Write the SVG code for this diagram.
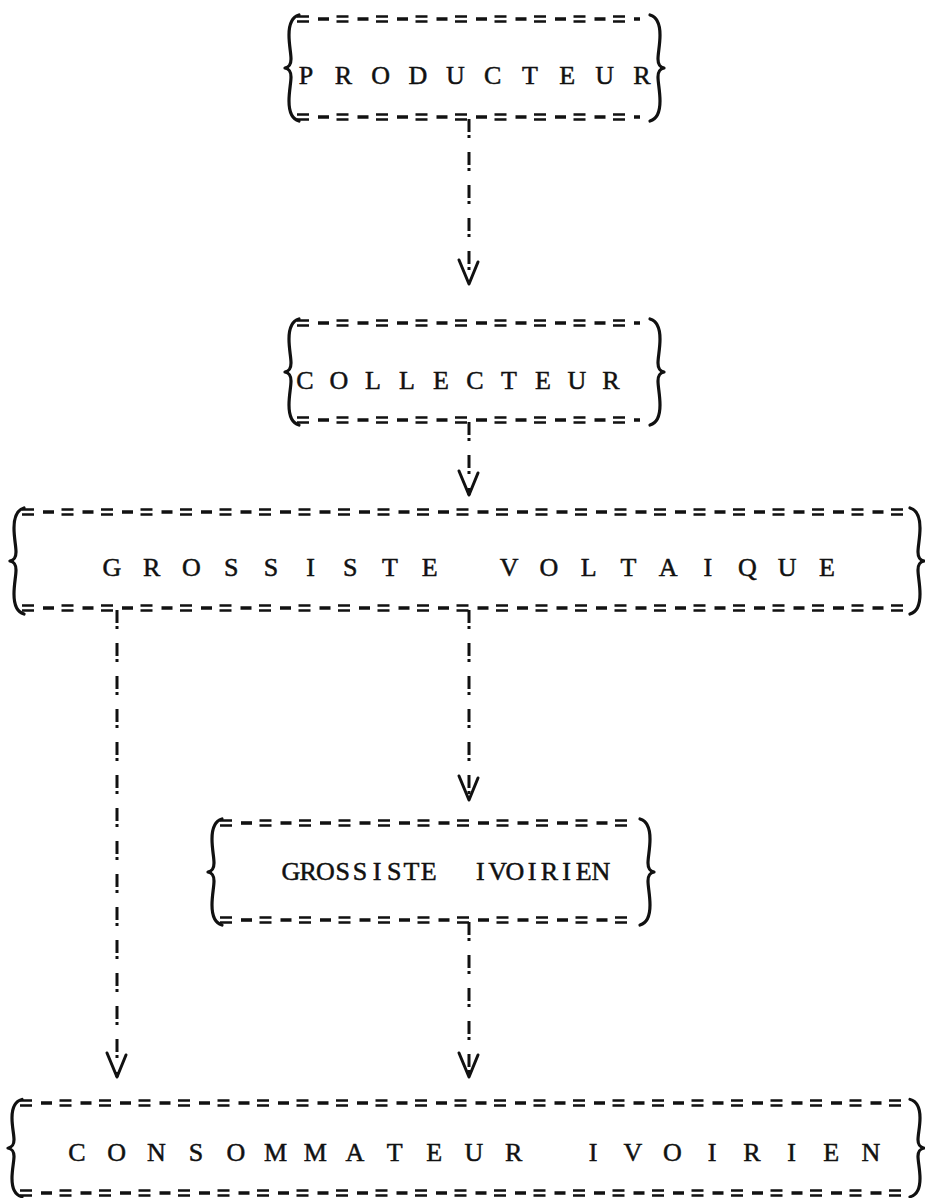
<svg xmlns="http://www.w3.org/2000/svg" xmlns:xlink="http://www.w3.org/1999/xlink" width="925" height="1198" viewBox="0 0 925 1198">
  <style>
    .lbl { font-family: "Liberation Serif", "DejaVu Serif", serif; font-size: 26px; fill: #111; stroke: #111; stroke-width: 0.5; text-anchor: middle; white-space: pre; }
    .eq { stroke: #111; stroke-width: 2.4; stroke-dasharray: 12 27.5; fill: none; }
    .dash { stroke: #111; stroke-width: 3.6; stroke-dasharray: 11 28.5; fill: none; }
    .brace { fill: none; stroke: #111; stroke-width: 3.2; stroke-linecap: round; stroke-linejoin: round; }
    .conn { fill: none; stroke: #111; stroke-width: 3; stroke-dasharray: 13 3 3 14; marker-end: url(#vee); }
  </style>
  <defs>
    <!-- typed "V" arrowhead -->
    <marker id="vee" markerUnits="userSpaceOnUse" viewBox="-28 -14 32 28" markerWidth="32" markerHeight="28" refX="0" refY="0" orient="auto" overflow="visible">
      <path d="M-22,-9 L0,0 L-24,10" fill="none" stroke="#111" stroke-width="3" stroke-linecap="round" stroke-linejoin="round"/>
    </marker>
    <!-- wavy curly side of a box, height 98 -->
    <path id="braceL" class="brace" d="M2,-4 C-5,-2 -8,6 -8,16 C-8,26 -6,34 -6,40 C-6,46 -8,48 -12,49 C-8,50 -6,52 -6,58 C-6,64 -8,72 -8,82 C-8,92 -5,100 2,102"/>
  </defs>

  <rect width="925" height="1198" fill="#fff"/>

  <!-- PRODUCTEUR -->
  <g id="producteur">
    <line class="eq" x1="297" y1="16.5" x2="652" y2="16.5"/>
    <line class="eq" x1="297" y1="21.5" x2="652" y2="21.5"/>
    <line class="dash" x1="318" y1="19" x2="640" y2="19"/>
    <line class="eq" x1="297" y1="114.5" x2="652" y2="114.5"/>
    <line class="eq" x1="297" y1="119.5" x2="652" y2="119.5"/>
    <line class="dash" x1="318" y1="117" x2="640" y2="117"/>
    <use xlink:href="#braceL" transform="translate(297,19)"/>
    <use xlink:href="#braceL" transform="translate(652,19) scale(-1,1)"/>
    <text class="lbl" y="84" x="306 324.7 343.3 362 380.7 399.3 418 436.7 455.3 474 492.7 511.3 530 548.7 567.3 586 604.7 623.3 642">P R O D U C T E U R</text>
  </g>

  <!-- COLLECTEUR -->
  <g id="collecteur">
    <line class="eq" x1="297" y1="320.5" x2="652" y2="320.5"/>
    <line class="eq" x1="297" y1="325.5" x2="652" y2="325.5"/>
    <line class="dash" x1="318" y1="323" x2="640" y2="323"/>
    <line class="eq" x1="297" y1="417.5" x2="652" y2="417.5"/>
    <line class="eq" x1="297" y1="422.5" x2="652" y2="422.5"/>
    <line class="dash" x1="318" y1="420" x2="640" y2="420"/>
    <use xlink:href="#braceL" transform="translate(297,323)"/>
    <use xlink:href="#braceL" transform="translate(652,323) scale(-1,1)"/>
    <text class="lbl" y="389" x="305 322 339 356 373 390 407 424 441 458 475 492 509 526 543 560 577 594 611">C O L L E C T E U R</text>
  </g>

  <!-- GROSSISTE VOLTAIQUE -->
  <g id="grossiste-voltaique">
    <line class="eq" x1="22" y1="509.5" x2="912" y2="509.5"/>
    <line class="eq" x1="22" y1="514.5" x2="912" y2="514.5"/>
    <line class="dash" x1="43" y1="512" x2="900" y2="512"/>
    <line class="eq" x1="22" y1="605.5" x2="912" y2="605.5"/>
    <line class="eq" x1="22" y1="610.5" x2="912" y2="610.5"/>
    <line class="dash" x1="43" y1="608" x2="900" y2="608"/>
    <use xlink:href="#braceL" transform="translate(22,512)"/>
    <use xlink:href="#braceL" transform="translate(912,512) scale(-1,1)"/>
    <text class="lbl" y="576" x="112 131.9 151.7 171.6 191.4 211.3 231.2 251 270.9 290.7 310.6 330.5 350.3 370.2 390 409.9 429.8 449.6 469.5 489.3 509.2 529.1 548.9 568.8 588.6 608.5 628.4 648.2 668.1 687.9 707.8 727.7 747.5 767.4 787.2 807.1 827">G R O S S I S T E   V O L T A I Q U E</text>
  </g>

  <!-- GROSSISTE IVOIRIEN -->
  <g id="grossiste-ivoirien">
    <line class="eq" x1="220" y1="820.5" x2="642" y2="820.5"/>
    <line class="eq" x1="220" y1="825.5" x2="642" y2="825.5"/>
    <line class="dash" x1="241" y1="823" x2="630" y2="823"/>
    <line class="eq" x1="220" y1="917.5" x2="642" y2="917.5"/>
    <line class="eq" x1="220" y1="922.5" x2="642" y2="922.5"/>
    <line class="dash" x1="241" y1="920" x2="630" y2="920"/>
    <use xlink:href="#braceL" transform="translate(220,823)"/>
    <use xlink:href="#braceL" transform="translate(642,823) scale(-1,1)"/>
    <text class="lbl" y="880" x="291 308.2 325.4 342.7 359.9 377.1 394.3 411.5 428.8 446 463.2 480.4 497.6 514.9 532.1 549.3 566.5 583.7 601">GROSSISTE  IVOIRIEN</text>
  </g>

  <!-- CONSOMMATEUR IVOIRIEN -->
  <g id="consommateur-ivoirien">
    <line class="eq" x1="20" y1="1100.5" x2="912" y2="1100.5"/>
    <line class="eq" x1="20" y1="1105.5" x2="912" y2="1105.5"/>
    <line class="dash" x1="41" y1="1103" x2="900" y2="1103"/>
    <line class="eq" x1="20" y1="1190.5" x2="912" y2="1190.5"/>
    <line class="eq" x1="20" y1="1195.5" x2="912" y2="1195.5"/>
    <line class="dash" x1="41" y1="1193" x2="900" y2="1193"/>
    <use xlink:href="#braceL" transform="translate(20,1103) scale(1,0.92)"/>
    <use xlink:href="#braceL" transform="translate(912,1103) scale(-1,0.92)"/>
    <text class="lbl" y="1161" x="77 96.9 116.7 136.6 156.4 176.3 196.1 216 235.8 255.7 275.5 295.4 315.2 335.1 354.9 374.8 394.6 414.5 434.3 454.2 474 493.9 513.7 533.6 553.4 573.3 593.1 613 632.8 652.7 672.5 692.4 712.2 732.1 751.9 771.8 791.6 811.5 831.3 851.2 871">C O N S O M M A T E U R   I V O I R I E N</text>
  </g>

  <!-- typed "!" connectors -->
  <g id="connectors">
    <path class="conn" d="M469,119 V284"/>
    <path class="conn" d="M469,422 V495"/>
    <path class="conn" d="M117,610 V1077"/>
    <path class="conn" d="M469,610 V800"/>
    <path class="conn" d="M469,922 V1077"/>
  </g>
</svg>
